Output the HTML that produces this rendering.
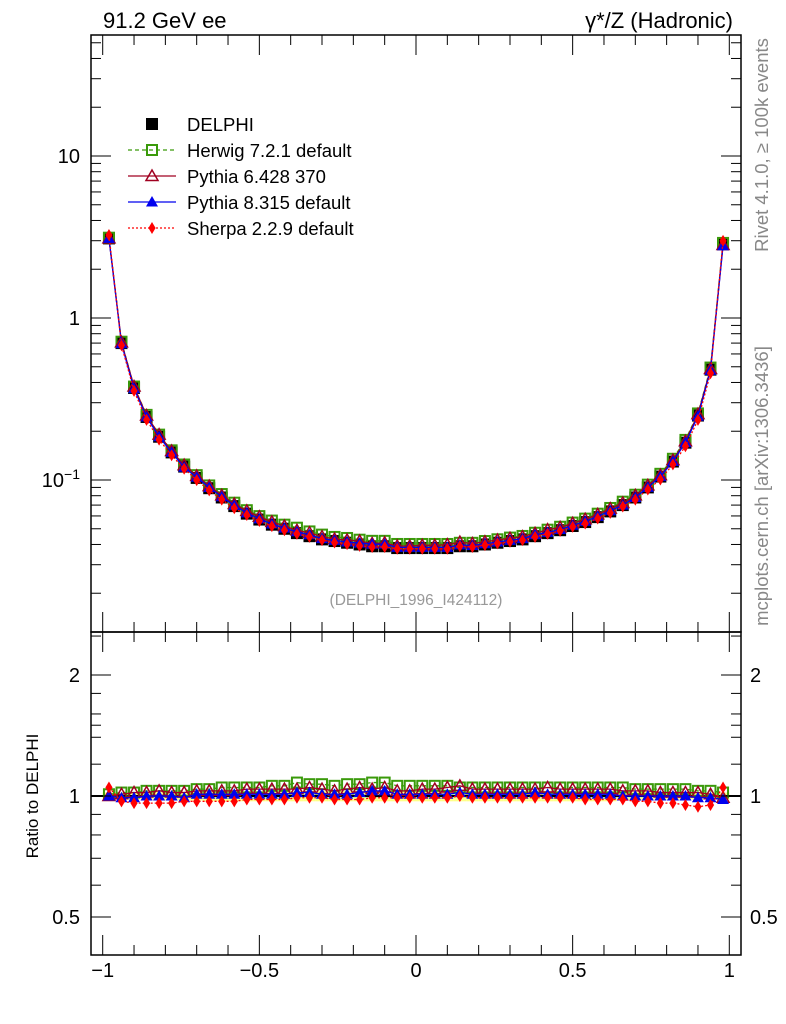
<!DOCTYPE html>
<html><head><meta charset="utf-8"><style>
html,body{margin:0;padding:0;background:#fff;}
svg{display:block;font-family:"Liberation Sans",sans-serif;}
</style></head><body>
<svg id="chart" width="786" height="1024" viewBox="0 0 786 1024">
<text x="103" y="28" font-size="22">91.2 GeV ee</text>
<text x="733" y="28" font-size="22" text-anchor="end">γ*/Z (Hadronic)</text>
<text transform="translate(768,145) rotate(-90)" font-size="18.5" fill="#888" text-anchor="middle">Rivet 4.1.0, ≥ 100k events</text>
<text transform="translate(768,486) rotate(-90)" font-size="18.5" fill="#888" text-anchor="middle">mcplots.cern.ch [arXiv:1306.3436]</text>
<text x="416" y="605" font-size="15.5" fill="#999" text-anchor="middle">(DELPHI_1996_I424112)</text>
<text transform="translate(38,796) rotate(-90)" font-size="17" text-anchor="middle">Ratio to DELPHI</text>
<g id="bands"></g>
<g id="marks"></g>
<g id="axes"></g>
<g id="legend"></g>
</svg>
<script>
const xCenters = [-0.98,-0.94,-0.90,-0.86,-0.82,-0.78,-0.74,-0.70,-0.66,-0.62,-0.58,-0.54,-0.50,-0.46,-0.42,-0.38,-0.34,-0.30,-0.26,-0.22,-0.18,-0.14,-0.10,-0.06,-0.02,0.02,0.06,0.10,0.14,0.18,0.22,0.26,0.30,0.34,0.38,0.42,0.46,0.50,0.54,0.58,0.62,0.66,0.70,0.74,0.78,0.82,0.86,0.90,0.94,0.98];
const dataValues = [3.1,0.70,0.37,0.245,0.185,0.148,0.121,0.103,0.089,0.078,0.069,0.062,0.057,0.053,0.050,0.047,0.045,0.043,0.042,0.041,0.040,0.039,0.039,0.038,0.038,0.038,0.038,0.038,0.039,0.039,0.040,0.041,0.042,0.043,0.045,0.047,0.049,0.052,0.055,0.059,0.064,0.070,0.078,0.090,0.105,0.13,0.17,0.25,0.48,2.85];
const herwigRatio = [1.01,1.02,1.02,1.03,1.03,1.03,1.03,1.04,1.04,1.05,1.05,1.05,1.05,1.06,1.06,1.08,1.07,1.07,1.06,1.07,1.07,1.08,1.08,1.06,1.06,1.06,1.06,1.06,1.05,1.05,1.05,1.05,1.05,1.05,1.05,1.05,1.05,1.05,1.05,1.05,1.05,1.05,1.04,1.04,1.04,1.04,1.04,1.03,1.03,1.02];
const pythia6Ratio = [1.00,1.01,1.02,1.02,1.03,1.02,1.02,1.03,1.03,1.03,1.03,1.04,1.04,1.04,1.04,1.04,1.05,1.04,1.03,1.04,1.05,1.04,1.05,1.03,1.03,1.04,1.04,1.05,1.06,1.04,1.04,1.04,1.04,1.04,1.04,1.05,1.04,1.04,1.04,1.04,1.04,1.03,1.03,1.03,1.02,1.02,1.02,1.02,1.01,0.99];
const pythia8Ratio = [1.00,0.99,0.99,1.00,1.00,1.00,0.99,1.01,1.01,1.01,1.01,1.01,1.01,1.01,1.01,1.02,1.02,1.01,1.01,1.01,1.02,1.03,1.03,1.01,1.01,1.01,1.01,1.01,1.02,1.01,1.01,1.01,1.01,1.01,1.02,1.01,1.01,1.01,1.01,1.01,1.01,1.00,1.00,1.00,1.00,1.00,1.00,0.99,0.99,0.98];
const sherpaRatio = [1.05,0.97,0.96,0.96,0.96,0.96,0.97,0.97,0.97,0.97,0.97,0.98,0.98,0.98,0.98,0.99,0.99,0.99,0.98,0.98,0.98,0.99,0.99,0.99,0.99,0.99,0.99,0.99,1.00,0.99,0.99,0.99,0.99,0.99,0.99,0.99,0.99,0.99,0.98,0.98,0.98,0.98,0.97,0.97,0.96,0.96,0.95,0.94,0.95,1.05];
const dataErr = [0.02,0.02,0.02,0.02,0.025,0.025,0.025,0.025,0.03,0.03,0.03,0.03,0.03,0.03,0.03,0.03,0.03,0.03,0.03,0.03,0.03,0.03,0.03,0.03,0.03,0.03,0.03,0.03,0.03,0.03,0.03,0.03,0.03,0.03,0.03,0.03,0.03,0.03,0.03,0.03,0.03,0.025,0.025,0.025,0.025,0.02,0.02,0.02,0.02,0.02];
const xTickLabels = ["−1","−0.5","0","0.5","1"];
const xTickValues = [-1,-0.5,0,0.5,1];
const ratioTickValues = [0.5,1,2];
const ratioTickLabels = ["0.5","1","2"];

const NS="http://www.w3.org/2000/svg";
const L=91,R=741,T=35,M=632,B=955;
const X=v=>416+313.3*v;
const Y=v=>318-162*Math.log10(v);
const YR=v=>796-121*Math.log2(v);
function mk(tag,attrs,parent){const e=document.createElementNS(NS,tag);for(const k in attrs)e.setAttribute(k,attrs[k]);parent.appendChild(e);return e;}
const bands=document.getElementById('bands'),marks=document.getElementById('marks'),axes=document.getElementById('axes'),legend=document.getElementById('legend');

for(let i=0;i<xCenters.length;i++){
  const x0=X(xCenters[i]-0.02),x1=X(xCenters[i]+0.02),e=dataErr[i];
  let b=mk('rect',{x:x0,y:YR(1+e),width:x1-x0,height:YR(1-e)-YR(1+e),fill:'#ffff88'},bands);
  
  
  let g=mk('rect',{x:x0,y:YR(1+e*0.35),width:x1-x0,height:YR(1-e*0.35)-YR(1+e*0.35),fill:'#aaeeaa'},bands);
  
  
}
mk('line',{x1:L,x2:R,y1:YR(1),y2:YR(1),stroke:'#000','stroke-width':2},bands);

function marker(type,cx,cy,parent,s){
  s=s||6;let e;
  if(type==='sq') e=mk('rect',{x:cx-s,y:cy-s,width:2*s,height:2*s,fill:'#000'},parent);
  else if(type==='osq') e=mk('rect',{x:cx-s+1,y:cy-s+1,width:2*s-2,height:2*s-2,fill:'none',stroke:'#3a9a0a','stroke-width':2},parent);
  else if(type==='otri') e=mk('polygon',{points:`${cx},${cy-s} ${cx+s},${cy+s*0.75} ${cx-s},${cy+s*0.75}`,fill:'none',stroke:'#a00020','stroke-width':1.5},parent);
  else if(type==='tri') e=mk('polygon',{points:`${cx},${cy-s} ${cx+s},${cy+s*0.75} ${cx-s},${cy+s*0.75}`,fill:'#0000ee'},parent);
  else e=mk('polygon',{points:`${cx},${cy-s} ${cx+s*0.6},${cy} ${cx},${cy+s} ${cx-s*0.6},${cy}`,fill:'#ff0000'},parent);
  return e;
}
const series=[
 {name:'herwig',ratio:herwigRatio,color:'#3a9a0a',dash:'4,3',m:'osq'},
 {name:'pythia6',ratio:pythia6Ratio,color:'#a00020',dash:'',m:'otri'},
 {name:'pythia8',ratio:pythia8Ratio,color:'#0000ee',dash:'',m:'tri'},
 {name:'sherpa',ratio:sherpaRatio,color:'#ff0000',dash:'2,2',m:'dia'}];
for(let i=0;i<xCenters.length;i++){
  const d=marker('sq',X(xCenters[i]),Y(dataValues[i]),marks,6);
  
  
}
for(const s of series){
  const pm=xCenters.map((x,i)=>X(x)+','+Y(dataValues[i]*s.ratio[i])).join(' ');
  const pl=mk('polyline',{points:pm,fill:'none',stroke:s.color,'stroke-width':1.3,'stroke-dasharray':s.dash},marks);
  
  
  const pr=xCenters.map((x,i)=>X(x)+','+YR(s.ratio[i])).join(' ');
  const pl2=mk('polyline',{points:pr,fill:'none',stroke:s.color,'stroke-width':1.3,'stroke-dasharray':s.dash},marks);
  
  
  for(let i=0;i<xCenters.length;i++){
    const a=marker(s.m,X(xCenters[i]),Y(dataValues[i]*s.ratio[i]),marks,6);
    
    
    const b=marker(s.m,X(xCenters[i]),YR(s.ratio[i]),marks,6);
    
    
  }
}
for(const [t,b,n] of [[T,M,'main-frame'],[M,B,'ratio-frame']]){
  const f=mk('rect',{x:L,y:t,width:R-L,height:b-t,fill:'none',stroke:'#000','stroke-width':1.5},axes);
  
  
}
for(let k=-10;k<=10;k++){
  const v=k/10,x=X(v),maj=(k%5===0),len=maj?20:10;
  for(const [t,b] of [[T,M],[M,B]]){
    mk('line',{x1:x,x2:x,y1:b,y2:b-len,stroke:'#000'},axes);
    mk('line',{x1:x,x2:x,y1:t,y2:t+len,stroke:'#000'},axes);
  }
}
xTickValues.forEach((v,i)=>{
  const t=mk('text',{x:X(v),y:977,'font-size':20,'text-anchor':'middle'},axes);t.textContent=xTickLabels[i];
  
  
});
for(let d=-2;d<=1;d++){
  for(let m=1;m<=9;m++){
    const v=m*Math.pow(10,d),y=Y(v);if(y<T||y>M)continue;
    const len=m===1?20:10;
    mk('line',{x1:L,x2:L+len,y1:y,y2:y,stroke:'#000'},axes);
    mk('line',{x1:R,x2:R-len,y1:y,y2:y,stroke:'#000'},axes);
  }
}
[['10',10],['1',1]].forEach(([s,v])=>{const t=mk('text',{x:80,y:Y(v)+7,'font-size':20,'text-anchor':'end'},axes);t.textContent=s;
  });
{const t=mk('text',{x:80,y:Y(0.1)+7,'font-size':20,'text-anchor':'end'},axes);t.innerHTML='10<tspan dy="-8" font-size="14">−1</tspan>';
 }
const rt=[0.4,0.5,0.6,0.7,0.8,0.9,1,2,1.5,1.2,1.4,1.6,1.8,2.5];
for(const v of rt){const y=YR(v);if(y<M||y>B)continue;const maj=ratioTickValues.includes(v),len=maj?20:10;
  mk('line',{x1:L,x2:L+len,y1:y,y2:y,stroke:'#000'},axes);mk('line',{x1:R,x2:R-len,y1:y,y2:y,stroke:'#000'},axes);}
ratioTickValues.forEach((v,i)=>{
  const a=mk('text',{x:80,y:YR(v)+7,'font-size':20,'text-anchor':'end'},axes);a.textContent=ratioTickLabels[i];
  
  const b=mk('text',{x:750,y:YR(v)+7,'font-size':20},axes);b.textContent=ratioTickLabels[i];
  
});
const leg=[['DELPHI','sq','#000',null],['Herwig 7.2.1 default','osq','#3a9a0a','4,3'],['Pythia 6.428 370','otri','#a00020',''],['Pythia 8.315 default','tri','#0000ee',''],['Sherpa 2.2.9 default','dia','#ff0000','2,2']];
leg.forEach((e,i)=>{
  const y=124+26*i;
  const g=mk('g',{},legend);
  
  
  if(e[3]!==null) mk('line',{x1:128,x2:176,y1:y,y2:y,stroke:e[2],'stroke-width':1.3,'stroke-dasharray':e[3]},g);
  marker(e[1],152,y,g,6);
  const t=mk('text',{x:187,y:y+7,'font-size':18.5},g);t.textContent=e[0];
});
</script>
</body></html>
